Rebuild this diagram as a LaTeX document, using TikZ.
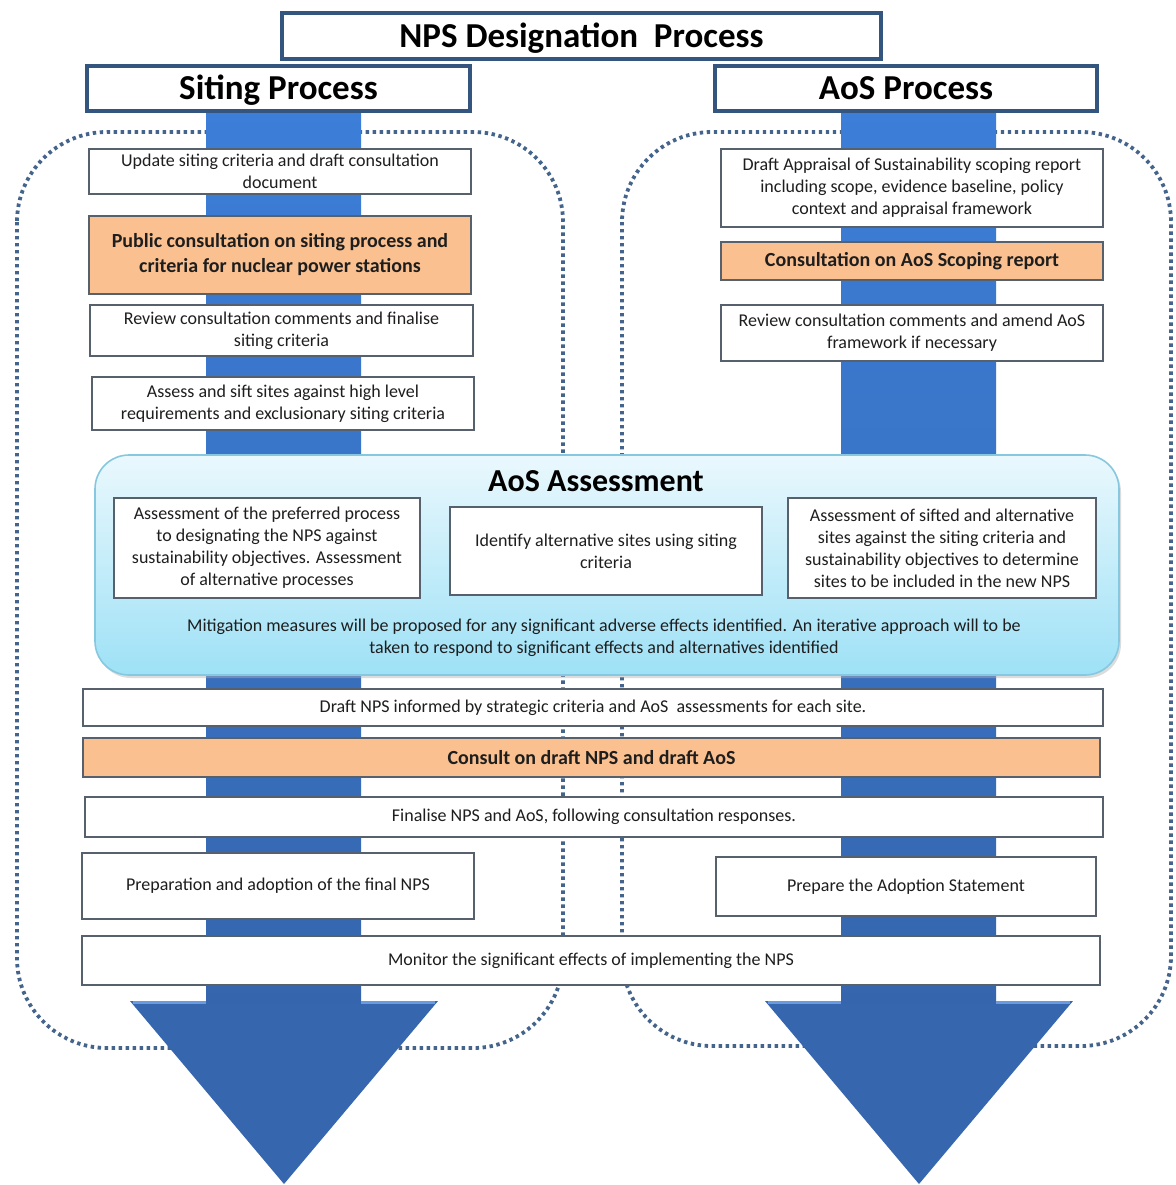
\documentclass[tikz,border=0pt]{standalone}
\usepackage{fontspec}
\setmainfont{Carlito}
\usetikzlibrary{shadows}
\definecolor{boxline}{HTML}{56616D}
\definecolor{hdrline}{HTML}{34557D}
\definecolor{orangefill}{HTML}{FAC090}
\definecolor{dotline}{HTML}{44648C}
\definecolor{shafttop}{HTML}{3C7ED8}
\definecolor{shaftbot}{HTML}{3566AD}
\definecolor{headfill}{HTML}{3566AE}
\definecolor{headlight}{HTML}{6A9BE0}
\definecolor{aostop}{HTML}{EAF8FD}
\definecolor{aosbot}{HTML}{9EE1F6}
\definecolor{aosline}{HTML}{85C8DF}
\definecolor{txt}{HTML}{1E1E1E}
\begin{document}
\begin{tikzpicture}[x=0.5pt,y=-0.5pt,
  base/.style={inner sep=0pt, align=center, text=txt, font=\fontsize{9}{11}\selectfont},
  plainbox/.style={base, draw=boxline, line width=0.75pt, fill=white},
  orangebox/.style={base, draw=boxline, line width=0.75pt, fill=orangefill, font=\bfseries\fontsize{10}{12.5}\selectfont},
  hdrbox/.style={base, draw=hdrline, line width=2pt, fill=white, text=black, text height=11.3pt, text depth=0pt, font=\bfseries\fontsize{17.5}{20}\selectfont},
  outline/.style={draw=dotline, line width=1.9pt, dash pattern=on 1.7pt off 1.8pt, rounded corners=45pt},
  aosbox/.style={draw=aosline, line width=0.8pt, rounded corners=17pt, top color=aostop, bottom color=aosbot,
     drop shadow={shadow xshift=1pt, shadow yshift=-1.5pt, fill=black!30, opacity=0.45}},
  shaft/.style={top color=shafttop, bottom color=shaftbot},
]
\useasboundingbox[fill=white] (0,0) rectangle (1176,1185);

% dotted outlines
\draw[outline] (17,132) rectangle (563,1048);
\draw[outline] (622,132) rectangle (1171,1046);

% arrows
\fill[headfill] (130,1001) -- (438,1001) -- (284,1184) -- cycle;
\fill[headfill] (765,1001) -- (1073,1001) -- (919,1184) -- cycle;
\shade[shaft] (206,111) rectangle (361,1003);
\shade[shaft] (841,111) rectangle (996,1003);
\draw[headlight, line width=1.5pt] (133,1002) -- (206,1002) (361,1002) -- (435,1002);
\draw[headlight, line width=1.5pt] (768,1002) -- (841,1002) (996,1002) -- (1070,1002);

% headers
\node[hdrbox, minimum width=299.5pt, minimum height=23pt] (title) at (581.5,36) {NPS Designation\ \ Process};
\node[hdrbox, minimum width=191.5pt, minimum height=22.5pt] (siting) at (278.5,88.5) {Siting Process};
\node[hdrbox, minimum width=191pt, minimum height=22.5pt] (aosproc) at (906,88.5) {AoS Process};

% left column
\node[plainbox, minimum width=191pt, minimum height=22.5pt] (l1) at (280,171.5) {Update siting criteria and draft consultation\\document};
\node[orangebox, minimum width=191pt, minimum height=39pt] (l2) at (280,255) {Public consultation on siting process and\\criteria for nuclear power stations};
\node[plainbox, minimum width=191.5pt, minimum height=25.5pt] (l3) at (281.5,330.5) {Review consultation comments and finalise\\siting criteria};
\node[plainbox, minimum width=191pt, minimum height=26.5pt] (l4) at (283,403.5) {Assess and sift sites against high level\\requirements and exclusionary siting criteria};

% right column
\node[plainbox, minimum width=191pt, minimum height=39pt] (r1) at (912,188) {Draft Appraisal of Sustainability scoping report\\including scope, evidence baseline, policy\\context and appraisal framework};
\node[orangebox, minimum width=191pt, minimum height=19pt] (r2) at (912,261) {Consultation on AoS Scoping report};
\node[plainbox, minimum width=191pt, minimum height=28pt] (r3) at (912,333) {Review consultation comments and amend AoS\\framework if necessary};

% AoS assessment
\node[aosbox, minimum width=512pt, minimum height=110pt] (aos) at (607,565) {};
\node[base, text=black, font=\bfseries\fontsize{16}{18}\selectfont] (aostitle) at (596,481) {AoS Assessment};
\node[plainbox, minimum width=153pt, minimum height=50pt] (aa) at (267,548) {Assessment of the preferred process\\to designating the NPS against\\sustainability objectives. Assessment\\of alternative processes};
\node[plainbox, minimum width=156pt, minimum height=44pt] (ab) at (606,551) {Identify alternative sites using siting\\criteria};
\node[plainbox, minimum width=154pt, minimum height=50pt] (ac) at (942,548) {Assessment of sifted and alternative\\sites against the siting criteria and\\sustainability objectives to determine\\sites to be included in the new NPS};
\node[base] (mitig) at (604,638) {Mitigation measures will be proposed for any significant adverse effects identified. An iterative approach will to be\\taken to respond to significant effects and alternatives identified};

% bottom rows
\node[plainbox, minimum width=510pt, minimum height=18.5pt] (d1) at (593,707.5) {Draft NPS informed by strategic criteria and AoS\ \ assessments for each site.};
\node[orangebox, minimum width=508.5pt, minimum height=19.5pt] (d2) at (591.5,757.5) {Consult on draft NPS and draft AoS};
\node[plainbox, minimum width=509pt, minimum height=20pt] (d3) at (594,817) {Finalise NPS and AoS, following consultation responses.};
\node[plainbox, minimum width=196pt, minimum height=33pt] (d4) at (278,886) {Preparation and adoption of the final NPS};
\node[plainbox, minimum width=190pt, minimum height=29.5pt] (d5) at (906,886.5) {Prepare the Adoption Statement};
\node[plainbox, minimum width=509pt, minimum height=24.5pt] (d6) at (591,960.5) {Monitor the significant effects of implementing the NPS};
\end{tikzpicture}
\end{document}
